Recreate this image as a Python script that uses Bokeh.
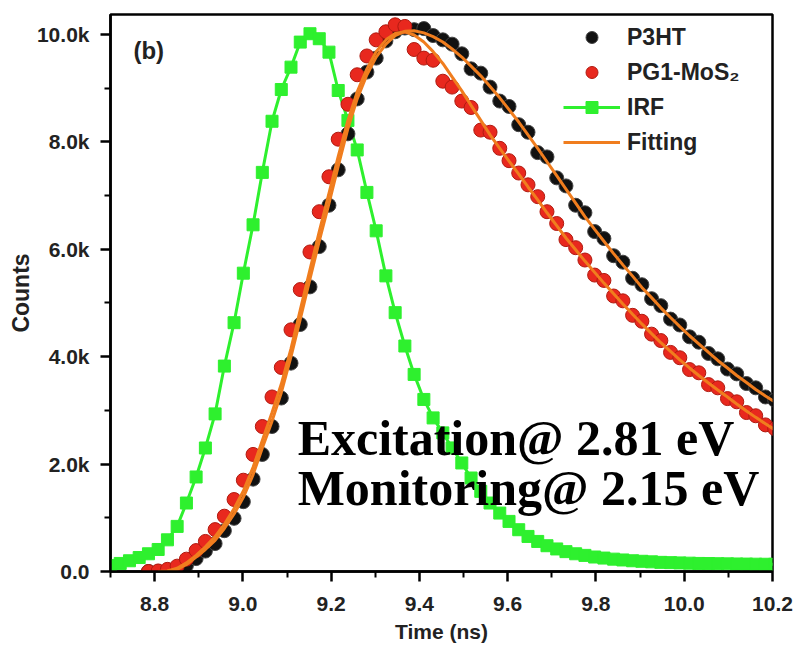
from bokeh.plotting import figure
from bokeh.models import Range1d, FixedTicker, Legend, LegendItem, Label, NumeralTickFormatter
from bokeh.embed import file_html
from bokeh.resources import INLINE

# time channels (ns)
times = [8.700, 8.722, 8.743, 8.765, 8.786, 8.808, 8.829, 8.851, 8.872, 8.894,
         8.915, 8.937, 8.958, 8.980, 9.001, 9.023, 9.044, 9.066, 9.087, 9.109,
         9.130, 9.152, 9.173, 9.195, 9.216, 9.238, 9.259, 9.281, 9.302, 9.324,
         9.345, 9.367, 9.388, 9.410, 9.431, 9.453, 9.474, 9.496, 9.517, 9.539,
         9.560, 9.582, 9.603, 9.625, 9.646, 9.668, 9.689, 9.711, 9.732, 9.754,
         9.775, 9.797, 9.818, 9.840, 9.861, 9.883, 9.904, 9.926, 9.947, 9.969,
         9.990, 10.012, 10.033, 10.055, 10.076, 10.098, 10.119, 10.141, 10.162, 10.184,
         10.205]

irf = [110, 150, 200, 260, 330, 410, 590, 840, 1275, 1760,
       2300, 2935, 3825, 4633, 5555, 6456, 7432, 8384, 8975, 9392,
       9858, 10014, 9921, 9671, 8957, 8400, 7850, 7059, 6344, 5505,
       4820, 4199, 3670, 3204, 2860, 2581, 2301, 2021, 1741, 1493,
       1275, 1088, 933, 778, 653, 560, 480, 420, 370, 330,
       300, 270, 250, 230, 215, 200, 190, 180, 170, 165,
       160, 155, 150, 148, 145, 142, 140, 138, 136, 135,
       134]

# measured points start at channel index 4
p3ht = [0, 0, 20, 30, 110, 240,
        380, 520, 760, 990, 1300, 1720, 2180, 2700, 3230, 3880,
        4600, 5300, 6050, 6820, 7480, 8150, 8800, 9300, 9560, 9880,
        10050, 10120, 10090, 10110, 9980, 9900, 9820, 9640, 9360, 9280,
        9020, 8760, 8660, 8320, 8180, 7800, 7720, 7330, 7180, 6820,
        6680, 6330, 6200, 5880, 5760, 5460, 5340, 5080, 4950, 4700,
        4590, 4370, 4270, 4060, 3960, 3770, 3680, 3500, 3420, 3250,
        3190]

pg1 = [0, 10, 40, 100, 230, 390,
       560, 780, 1030, 1340, 1700, 2180, 2700, 3250, 3800, 4500,
       5250, 5950, 6700, 7350, 8050, 8700, 9250, 9600, 9900, 10050,
       10180, 10150, 9720, 9560, 9520, 9130, 9020, 8760, 8640, 8220,
       8180, 7880, 7650, 7420, 7200, 6980, 6700, 6480, 6180, 6030,
       5800, 5520, 5420, 5130, 5040, 4770, 4660, 4420, 4300, 4080,
       3980, 3760, 3700, 3480, 3420, 3220, 3160, 2960, 2900, 2730,
       2660]

# fitted curves start at channel index 5
fit_p3ht = [0, 5, 40, 130, 270,
            410, 580, 800, 1070, 1380, 1800, 2300, 2800, 3330, 4000,
            4700, 5450, 6150, 6850, 7550, 8250, 8800, 9250, 9580, 9820,
            9980, 10060, 10070, 10030, 9960, 9860, 9730, 9580, 9410, 9230,
            9030, 8820, 8600, 8370, 8130, 7880, 7630, 7370, 7120, 6860,
            6610, 6370, 6150, 5920, 5710, 5500, 5290, 5100, 4910, 4730,
            4560, 4390, 4240, 4080, 3930, 3790, 3650, 3520, 3390, 3270,
            3160]

fit_pg1 = [0, 10, 60, 160, 300,
           460, 650, 880, 1170, 1500, 1940, 2440, 2960, 3490, 4150,
           4870, 5620, 6330, 7040, 7730, 8400, 8930, 9360, 9680, 9900,
           10020, 10050, 9990, 9860, 9680, 9460, 9210, 8950, 8680, 8400,
           8130, 7880, 7640, 7400, 7160, 6920, 6680, 6440, 6210, 5990,
           5780, 5570, 5370, 5170, 4980, 4790, 4610, 4430, 4260, 4100,
           3940, 3790, 3650, 3510, 3380, 3250, 3120, 2990, 2870, 2750,
           2640]

x_ticks = [8.8, 9.0, 9.2, 9.4, 9.6, 9.8, 10.0, 10.2]
x_minor = [8.7, 8.9, 9.1, 9.3, 9.5, 9.7, 9.9, 10.1]
y_ticks = [0, 2000, 4000, 6000, 8000, 10000]
y_labels = ["0.0", "2.0k", "4.0k", "6.0k", "8.0k", "10.0k"]
y_minor = [1000, 3000, 5000, 7000, 9000]

GREEN = "#2ef02e"
ORANGE = "#f07d1e"
RED = "#e8281e"

p = figure(width=796, height=650, x_range=Range1d(8.7, 10.2), y_range=Range1d(0, 10372),
           output_backend="svg", toolbar_location=None,
           min_border_left=110, min_border_right=24, min_border_top=14, min_border_bottom=79)
p.xgrid.visible = False
p.ygrid.visible = False
p.outline_line_color = "black"
p.outline_line_width = 2.5
p.outline_line_alpha = 1.0

r_irf_line = p.line(times, irf, line_color=GREEN, line_width=3)
r_irf_sq = p.scatter(times, irf, marker="square", size=12, fill_color=GREEN, line_color=GREEN)

r_black = p.scatter(times[4:], p3ht, marker="circle", size=14,
                    fill_color="#111111", line_color="#444444", line_width=1)
r_red = p.scatter(times[4:], pg1, marker="circle", size=14,
                  fill_color=RED, line_color="#b01a10", line_width=1)

r_fit1 = p.line(times[5:], fit_p3ht, line_color=ORANGE, line_width=3)
r_fit2 = p.line(times[5:], fit_pg1, line_color=ORANGE, line_width=3)

for ax in (p.xaxis[0], p.yaxis[0]):
    ax.axis_line_width = 2.5
    ax.major_tick_line_width = 2.5
    ax.minor_tick_line_width = 2
    ax.major_tick_in = 0
    ax.major_tick_out = 10
    ax.minor_tick_in = 0
    ax.minor_tick_out = 6
    ax.major_label_text_font = "Liberation Sans"
    ax.major_label_text_font_style = "bold"
    ax.major_label_text_color = "#222222"
    ax.axis_label_text_font = "Liberation Sans"
    ax.axis_label_text_font_style = "bold"
    ax.axis_label_text_color = "#222222"

p.xaxis.ticker = FixedTicker(ticks=x_ticks, minor_ticks=x_minor)
p.xaxis.formatter = NumeralTickFormatter(format="0.0")
p.xaxis.axis_label = "Time (ns)"
p.xaxis.major_label_text_font_size = "21px"
p.xaxis.axis_label_text_font_size = "21px"
p.xaxis.major_label_standoff = 15
p.xaxis.axis_label_standoff = 6

p.yaxis.ticker = FixedTicker(ticks=y_ticks, minor_ticks=y_minor)
p.yaxis.major_label_overrides = {t: l for t, l in zip(y_ticks, y_labels)}
p.yaxis.major_label_text_font_size = "21px"
p.yaxis.major_label_standoff = 11
p.yaxis.axis_label = "Counts"
p.yaxis.axis_label_text_font_size = "23px"
p.yaxis.axis_label_standoff = 0

legend = Legend(items=[
    LegendItem(label="P3HT", renderers=[r_black]),
    LegendItem(label="PG1-MoS\u2082", renderers=[r_red]),
    LegendItem(label="IRF", renderers=[r_irf_line, r_irf_sq]),
    LegendItem(label="Fitting", renderers=[r_fit1]),
], location=(453, 414), glyph_width=57, glyph_height=30, label_height=30,
    spacing=5, padding=0, margin=0, border_line_color=None, background_fill_alpha=0,
    label_standoff=7, label_text_font="Liberation Sans", label_text_font_style="bold",
    label_text_font_size="23px", label_text_color="#222222")
p.add_layout(legend)

p.add_layout(Label(x=8.752, y=9700, text="(b)", text_font="Liberation Sans",
                   text_font_style="bold", text_font_size="24px", text_color="#222222",
                   text_baseline="middle"))
p.add_layout(Label(x=9.124, y=2480, text="Excitation@ 2.81 eV", text_font="Liberation Serif",
                   text_font_style="bold", text_font_size="50px", text_color="black",
                   text_baseline="alphabetic"))
p.add_layout(Label(x=9.124, y=1550, text="Monitoring@ 2.15 eV", text_font="Liberation Serif",
                   text_font_style="bold", text_font_size="50px", text_color="black",
                   text_baseline="alphabetic"))

open("out.html", "w").write(file_html(p, INLINE))
